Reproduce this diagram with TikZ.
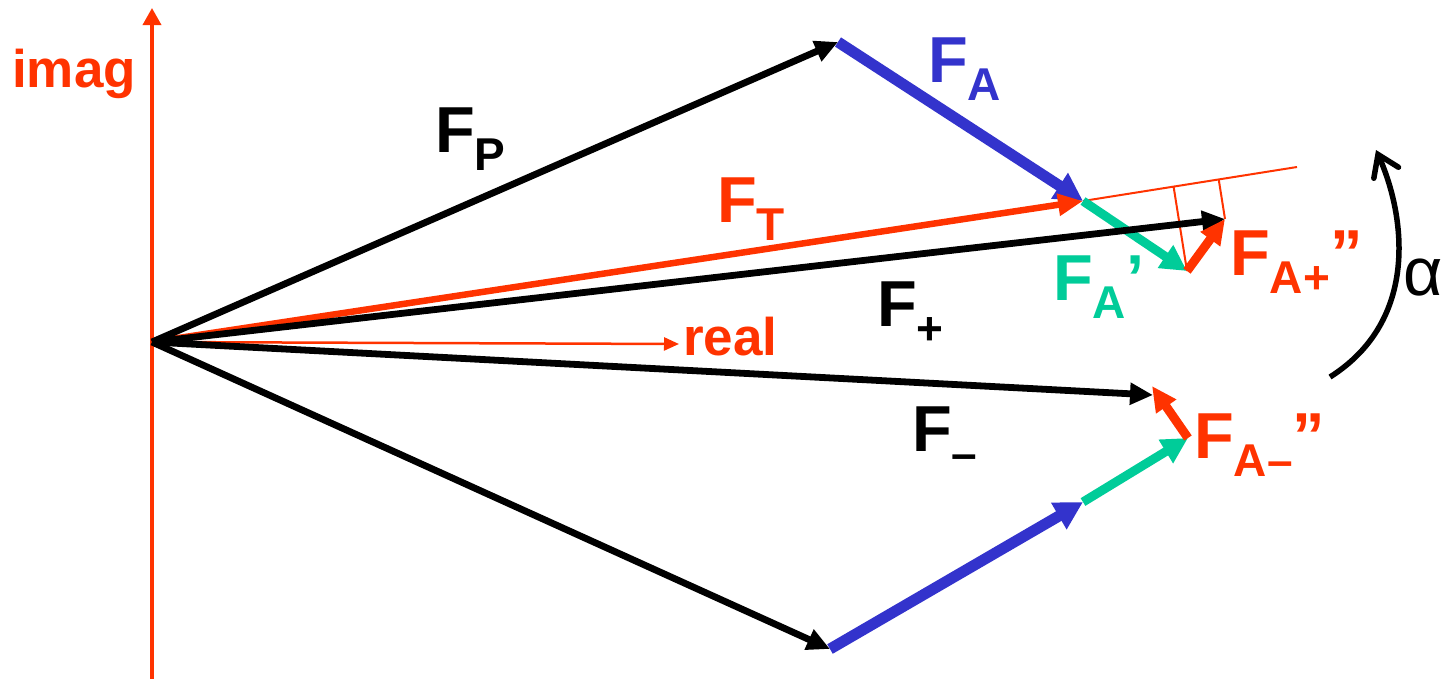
\documentclass[tikz,border=0pt]{standalone}
\usepackage{fontspec}
\setmainfont{Liberation Sans}
\usetikzlibrary{arrows.meta,calc}
\definecolor{cred}{HTML}{FF3300}
\definecolor{cblue}{HTML}{3333CC}
\definecolor{cgreen}{HTML}{00CC99}
\newcommand\lowsub[1]{\raisebox{-18pt}{\fontsize{46pt}{46pt}\selectfont #1}}
\begin{document}
\begin{tikzpicture}[x=1pt,y=-1pt,
  lbl/.style={anchor=base west,inner sep=0pt,font=\fontsize{65pt}{65pt}\selectfont\bfseries},
  axislbl/.style={anchor=base west,inner sep=0pt,text=cred,font=\fontsize{53pt}{53pt}\selectfont\bfseries},
  blk/.style={line width=6.8pt,-{Triangle[length=23pt,width=21pt]}},
  bluev/.style={cblue,line width=11pt,-{Triangle[length=28pt,width=29pt]}},
  greenv/.style={cgreen,line width=9pt,-{Triangle[length=26pt,width=26pt]}},
  redv/.style={cred,line width=9pt,-{Triangle[length=25pt,width=23pt]}},
  thinred/.style={cred,line width=2pt},
]
\useasboundingbox (0,0) rectangle (1443,678);
% points
\coordinate (O) at (152,342);
\coordinate (ybot) at (152,680);
\coordinate (ytop) at (152,8);
\coordinate (xend) at (679,344);
\coordinate (P) at (838,42);
\coordinate (T) at (1083,201);
\coordinate (Tx) at (1297,167);
\coordinate (Ap) at (1187,271);
\coordinate (Fp) at (1225,219);
\coordinate (M) at (830,649);
\coordinate (B) at (1083,502);
\coordinate (G) at (1188,438);
\coordinate (Fm) at (1153,395);
\coordinate (Rm) at (1152,386);
\coordinate (a1) at (1330,377);
\coordinate (a2) at (1376,150);
% axes
\draw[cred,line width=3.5pt,-{Triangle[length=17pt,width=18pt]}] (ybot) -- (ytop);
\draw[cred,line width=2.5pt,-{Triangle[length=15pt,width=13pt]}] (O) -- (xend);
% projection construction
\draw[thinred] (T) -- (Tx);
\draw[thinred] (Ap) -- ($(T)!(Ap)!(Tx)$);
\draw[thinred] (Fp) -- ($(T)!(Fp)!(Tx)$);
% upper chain
\draw[greenv] (T) -- (Ap);
\draw[bluev] (P) -- (T);
\draw[cred,line width=6.5pt,-{Triangle[length=25pt,width=21pt]}] (O) -- (T);
\draw[blk] (O) -- (P);
\draw[blk] (O) -- (Fp);
\draw[redv] (Ap) -- (Fp);
% lower chain
\draw[blk] (O) -- (Fm);
\draw[blk] (O) -- (M);
\draw[greenv] (B) -- (G);
\draw[bluev] (M) -- (B);
\draw[redv] (G) -- (Rm);
% angle arc
\draw[line width=5.5pt,-{Straight Barb[length=20pt,width=27pt,line cap=round]}] (a1) .. controls (1420,320) and (1405,215) .. (a2);
% labels
\node[axislbl] (imag) at (12,87) {imag};
\node[axislbl] (real) at (683,355) {real};
\node[lbl] (lFP) at (435,152) {F\lowsub{P}};
\node[lbl,text=cblue] (lFA) at (928,82) {F\lowsub{A}};
\node[lbl,text=cred] (lFT) at (717,222) {F\lowsub{T}};
\node[lbl,text=cgreen] (lFAp) at (1053,300) {F\lowsub{A}’};
\node[lbl] (lFplus) at (877,326) {F\lowsub{+}};
\node[lbl,text=cred] (lFApp) at (1230,275) {F\lowsub{A+}”};
\node[lbl] (lFminus) at (912,451) {F\lowsub{–}};
\node[lbl,text=cred] (lFAmm) at (1194,458) {F\lowsub{A–}”};
\node[anchor=base west,inner sep=0pt,font=\fontsize{68pt}{68pt}\selectfont] (alpha) at (1403,295) {α};
\end{tikzpicture}
\end{document}
